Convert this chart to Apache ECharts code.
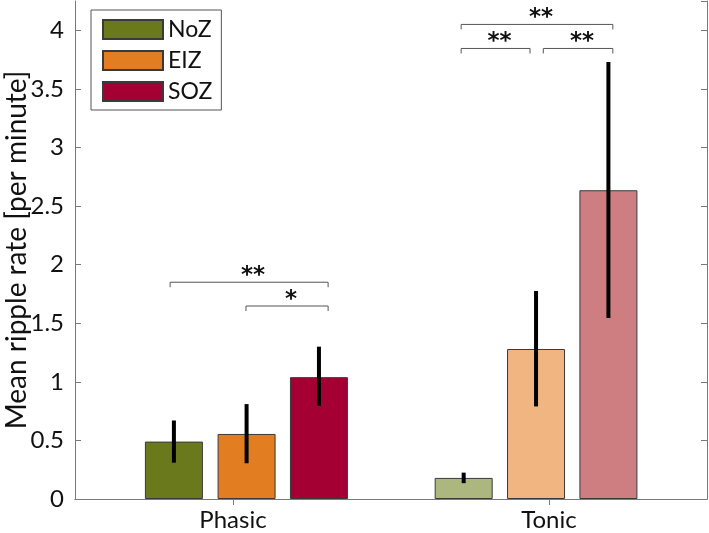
<!DOCTYPE html>
<html>
<head>
<meta charset="utf-8">
<script src="https://cdn.jsdelivr.net/npm/echarts@6/dist/echarts.min.js"></script>
<style>html,body{margin:0;padding:0;background:#fff}#c{width:709px;height:533px}</style>
</head>
<body>
<div id="c"></div>
<script>
// ---- data ----
const categories = ['Phasic', 'Tonic'];
const categoryPos = [1, 2];
const zones = ['NoZ', 'EIZ', 'SOZ'];
// bar centre positions on the x scale, per zone: [Phasic, Tonic]
const xNoZ = [0.813, 1.730];
const xEIZ = [1.043, 1.959];
const xSOZ = [1.272, 2.188];
// mean values
const meanNoZ = [0.49, 0.18];
const meanEIZ = [0.555, 1.28];
const meanSOZ = [1.04, 2.635];
// error bar extents
const lowNoZ = [0.31, 0.135], highNoZ = [0.67, 0.225];
const lowEIZ = [0.305, 0.79], highEIZ = [0.81, 1.775];
const lowSOZ = [0.795, 1.545], highSOZ = [1.30, 3.73];
// significance brackets
const sigX1 = [0.801, 1.041, 1.722, 1.722, 1.982];
const sigX2 = [1.301, 1.301, 2.202, 1.940, 2.202];
const sigY = [1.85, 1.647, 4.05, 3.845, 3.845];
const sigLabels = ['**', '*', '**', '**', '**'];
// y ticks
const yMin = 0, yMax = 4.25, yStep = 0.5;

// ---- styles ----
const darkColors = ['#6b791d', '#e27d22', '#a50034'];
const lightColors = ['#abb77e', '#f0b581', '#ce7d80'];
const axisGray = '#7a7a7a';
const FONT = 'Lato';

const xs = [xNoZ, xEIZ, xSOZ];
const means = [meanNoZ, meanEIZ, meanSOZ];
const lows = [lowNoZ, lowEIZ, lowSOZ];
const highs = [highNoZ, highEIZ, highSOZ];

const barSeries = zones.map((z, i) => ({
  name: z,
  type: 'bar',
  xAxisIndex: 0, yAxisIndex: 0,
  barWidth: 58,
  barGap: '-100%',
  itemStyle: { color: darkColors[i], borderColor: '#3a3a3a', borderWidth: 1 },
  data: means[i].map((v, j) => ({
    value: [xs[i][j], v],
    itemStyle: { color: j === 0 ? darkColors[i] : lightColors[i] }
  })),
  z: 2
}));

const errData = [];
zones.forEach((z, i) => { for (let j = 0; j < categories.length; j++) errData.push([xs[i][j], lows[i][j], highs[i][j]]); });

const errSeries = {
  type: 'custom',
  xAxisIndex: 0, yAxisIndex: 0,
  encode: { x: 0, y: [1, 2] },
  data: errData,
  z: 5,
  silent: true,
  renderItem: function (params, api) {
    const p1 = api.coord([api.value(0), api.value(1)]);
    const p2 = api.coord([api.value(0), api.value(2)]);
    return { type: 'line', shape: { x1: p1[0], y1: p1[1], x2: p2[0], y2: p2[1] }, style: { stroke: '#000', lineWidth: 4 } };
  }
};

const sigData = sigX1.map((x, i) => [x, sigX2[i], sigY[i]]);
const sigSeries = {
  type: 'custom',
  xAxisIndex: 0, yAxisIndex: 0,
  encode: { x: [0, 1], y: 2 },
  data: sigData,
  z: 6,
  silent: true,
  clip: false,
  renderItem: function (params, api) {
    const p1 = api.coord([api.value(0), api.value(2)]);
    const p2 = api.coord([api.value(1), api.value(2)]);
    const drop = 5;
    return {
      type: 'group',
      children: [
        { type: 'polyline', shape: { points: [[p1[0], p1[1] + drop], [p1[0], p1[1]], [p2[0], p2[1]], [p2[0], p2[1] + drop]] },
          style: { stroke: '#555', lineWidth: 1, fill: null } },
        { type: 'text', x: (p1[0] + p2[0]) / 2 + 4, y: p1[1] + 1,
          style: { text: sigLabels[params.dataIndex], font: 'bold 23px "DejaVu Sans"', fill: '#111', align: 'center', verticalAlign: 'bottom', lineHeight: 14 } }
      ]
    };
  }
};

const chart = echarts.init(document.getElementById('c'), null, { renderer: 'canvas' });
chart.setOption({
  animation: false,
  backgroundColor: '#fff',
  grid: { left: 75, right: 2, top: 1, bottom: 34, containLabel: false, outerBoundsMode: 'none' },
  legend: {
    data: zones,
    orient: 'vertical',
    left: 91, top: 10,
    padding: [8, 9, 7, 11],
    itemWidth: 60, itemHeight: 19, itemGap: 8,
    borderColor: '#555', borderWidth: 1,
    backgroundColor: '#fff',
    icon: 'rect',
    selectedMode: false,
    textStyle: { fontFamily: FONT, fontSize: 23, color: '#111', padding: [0, 0, 0, 0], lineHeight: 19 }
  },
  xAxis: [{
    type: 'value', min: 0.5, max: 2.5, position: 'bottom',
    axisLine: { show: true, lineStyle: { color: axisGray, width: 1 } },
    axisTick: { show: true, inside: true, length: 6, customValues: categoryPos, lineStyle: { color: axisGray } },
    axisLabel: { customValues: categoryPos, formatter: v => categories[categoryPos.indexOf(v)] || '', fontFamily: FONT, fontSize: 24, color: '#111', margin: 9 },
    splitLine: { show: false }
  }, {
    type: 'value', min: 0.5, max: 2.5, position: 'top',
    axisLine: { show: true, lineStyle: { color: axisGray, width: 1 } },
    axisTick: { show: true, inside: true, length: 6, customValues: categoryPos, lineStyle: { color: axisGray } },
    axisLabel: { show: false },
    splitLine: { show: false }
  }],
  yAxis: [{
    type: 'value', min: yMin, max: yMax, interval: yStep, position: 'left',
    name: 'Mean ripple rate [per minute]', nameLocation: 'middle', nameGap: 44, nameMoveOverlap: false,
    nameTextStyle: { fontFamily: FONT, fontSize: 28, lineHeight: 28, color: '#111' },
    axisLine: { show: true, lineStyle: { color: axisGray, width: 1 } },
    axisTick: { show: true, inside: true, length: 6, lineStyle: { color: axisGray } },
    axisLabel: { fontFamily: FONT, fontSize: 24, color: '#111', margin: 11, showMaxLabel: false },
    splitLine: { show: false }
  }, {
    type: 'value', min: yMin, max: yMax, interval: yStep, position: 'right',
    axisLine: { show: true, lineStyle: { color: axisGray, width: 1 } },
    axisTick: { show: true, inside: true, length: 6, lineStyle: { color: axisGray } },
    axisLabel: { show: false },
    splitLine: { show: false }
  }],
  series: [...barSeries, errSeries, sigSeries]
});
</script>
</body>
</html>
